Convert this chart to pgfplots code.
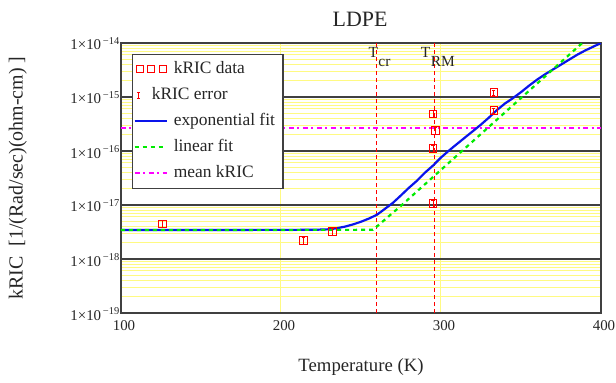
\documentclass[border=0pt]{standalone}
\usepackage{fontspec}
\setmainfont{Liberation Serif}
\usepackage{pgfplots}
\usepackage{pgfplotstable}
\pgfplotsset{compat=1.18}

\definecolor{gridyellow}{RGB}{255,250,130}
\definecolor{framegray}{RGB}{64,64,64}
\definecolor{fitblue}{RGB}{10,20,235}
\definecolor{fitgreen}{RGB}{0,235,0}
\definecolor{meanmag}{RGB}{255,0,255}

% measured resistivity-induced conductivity coefficient
\pgfplotstableread{
T      k         err
126    4.45e-18  0.15
214    2.22e-18  0.15
232    3.21e-18  0.15
295    1.07e-17  0.15
295    4.84e-16  0.15
296.5  2.38e-16  0.15
295    1.12e-16  0.15
333    1.20e-15  0.10
333    5.58e-16  0.10
}\kricdata

% exponential fit
\pgfplotstableread{
T    k
100  3.44e-18
220  3.47e-18
230  3.55e-18
235  3.72e-18
240  3.98e-18
245  4.37e-18
250  4.90e-18
255  5.62e-18
260  6.61e-18
265  8.51e-18
270  1.10e-17
275  1.51e-17
280  2.09e-17
285  2.82e-17
290  3.98e-17
295  5.37e-17
300  7.59e-17
305  1.02e-16
310  1.35e-16
315  1.78e-16
320  2.34e-16
325  3.09e-16
330  4.17e-16
335  5.75e-16
340  7.59e-16
345  9.55e-16
350  1.23e-15
355  1.62e-15
360  2.09e-15
365  2.63e-15
370  3.24e-15
375  3.98e-15
380  4.90e-15
385  6.03e-15
390  7.24e-15
395  8.51e-15
400  1.00e-14
}\expfit

% linear fit
\pgfplotstableread{
T      k
100    3.44e-18
257.5  3.47e-18
275    9.68e-18
300    4.48e-17
325    2.07e-16
350    9.57e-16
375    4.43e-15
390    1.11e-14
}\linfit

\pgfplotsset{
  leg data/.style={legend image code/.code={
    \draw[red,line width=1pt] (1.5bp,-3.5bp) rectangle (8.5bp,3.5bp);
    \draw[red,line width=1pt] (13bp,-3.5bp) rectangle (20bp,3.5bp);
    \draw[red,line width=1pt] (24.5bp,-3.5bp) rectangle (31.5bp,3.5bp);}},
  leg err/.style={legend image code/.code={
    \draw[red,line width=1pt] (4bp,-3bp)--(4bp,3bp) (2.5bp,-3bp)--(5.5bp,-3bp) (2.5bp,3bp)--(5.5bp,3bp);}},
  leg line/.style={legend image code/.code={\draw[##1] (0bp,0bp)--(32bp,0bp);}},
}

\begin{document}
\begin{tikzpicture}
\begin{axis}[
  name=ax,
  scale only axis,
  width=480bp, height=270bp,
  xmin=100, xmax=400,
  ymode=log, ymin=1e-19, ymax=1e-14,
  xtick={100,200,300,400},
  xticklabels={100,200,300,400},
  ytick={1e-19,1e-18,1e-17,1e-16,1e-15,1e-14},
  yticklabels={1×10\textsuperscript{\,−19},1×10\textsuperscript{\,−18},1×10\textsuperscript{\,−17},
               1×10\textsuperscript{\,−16},1×10\textsuperscript{\,−15},1×10\textsuperscript{\,−14}},
  major tick length=0pt, minor tick length=0pt,
  xmajorgrids, ymajorgrids, yminorgrids,
  major x grid style={gridyellow, line width=1bp},
  major y grid style={framegray, line width=1.1pt},
  minor y grid style={gridyellow, line width=1bp},
  axis line style={framegray, line width=1.3pt},
  ticklabel style={font=\fontsize{15}{15}\selectfont, text=black!85},
  yticklabel style={inner sep=0pt, xshift=-1bp, yshift=-1bp},
  xticklabel style={inner sep=0pt, xshift=3bp, yshift=-7bp},
  title={LDPE},
  title style={at={(axis description cs:0.498,1.066)}, anchor=center,
               font=\fontsize{22}{22}\selectfont, text=black!85},
  xlabel={Temperature (K)},
  xlabel style={at={(axis description cs:0.5,-0.2)}, anchor=center,
                font=\fontsize{18.8}{18.8}\selectfont, text=black!85},
  ylabel={kRIC\ \ [1/(Rad/sec)(ohm-cm) ]},
  ylabel style={at={(axis description cs:-0.215,0.5)}, anchor=center,
                font=\fontsize{20}{20}\selectfont, text=black!85},
  legend style={at={(axis description cs:0.023,0.959)}, anchor=north west,
                draw=framegray, line width=1.1pt, fill=white,
                font=\fontsize{17.5}{17.5}\selectfont, text=black!85,
                inner xsep=1bp, inner ysep=6bp, column sep=6bp,
                nodes={inner sep=0pt, text height=13bp, text depth=4.5bp},
                row sep=8.5bp},
  legend cell align=left,
  clip=true,
]
% legend entries
\addlegendimage{leg data}
\addlegendentry{kRIC data}
\addlegendimage{leg err}
\addlegendentry{\hspace*{-22bp}kRIC error}
\addlegendimage{leg line, fitblue, line width=2.2bp}
\addlegendentry{exponential fit\hspace*{7bp}}
\addlegendimage{leg line, fitgreen, line width=2.2bp, dash pattern=on 4bp off 4bp}
\addlegendentry{linear fit}
\addlegendimage{leg line, meanmag, line width=2bp, dash pattern=on 5bp off 3.5bp on 2bp off 3.5bp}
\addlegendentry{mean kRIC}

% critical and room temperatures
\addplot[forget plot, red, line width=1bp, dash pattern=on 4bp off 3bp]
  coordinates {(260,1e-19) (260,1e-14)};
\addplot[forget plot, red, line width=1bp, dash pattern=on 4bp off 3bp]
  coordinates {(296,1e-19) (296,1e-14)};

% mean value
\addplot[forget plot, meanmag, line width=2bp, dash pattern=on 5bp off 3.5bp on 2bp off 3.5bp]
  coordinates {(100,2.7e-16) (400,2.7e-16)};

% fits
\addplot[forget plot, fitblue, line width=2.2bp] table[x=T,y=k] {\expfit};
\addplot[forget plot, fitgreen, line width=2.2bp, dash pattern=on 4bp off 4bp] table[x=T,y=k] {\linfit};

% data with error bars
\addplot[forget plot, only marks, mark=square, mark size=3.8bp, red,
  mark options={line width=1pt},
  error bars/.cd, y dir=both, y explicit relative,
  error bar style={red, line width=1pt},
  error mark=-, error mark options={red, line width=1pt, mark size=1.6bp, rotate=90}]
  table[x=T, y=k, y error=err] {\kricdata};

\node[anchor=base east, inner sep=0pt, font=\fontsize{15.5}{15.5}\selectfont, text=black!85]
  at (axis cs:260.8,5.3e-15) {T};
\node[anchor=base west, inner sep=0pt, font=\fontsize{15.5}{15.5}\selectfont, text=black!85]
  at (axis cs:260.8,3.6e-15) {cr};
\node[anchor=base east, inner sep=0pt, font=\fontsize{15.5}{15.5}\selectfont, text=black!85]
  at (axis cs:293.5,5.3e-15) {T};
\node[anchor=base west, inner sep=0pt, font=\fontsize{15.5}{15.5}\selectfont, text=black!85]
  at (axis cs:293.5,3.6e-15) {RM};
\end{axis}
\pgfresetboundingbox
\path ([xshift=-121bp,yshift=-70bp]ax.south west) rectangle ([xshift=15bp,yshift=43bp]ax.north east);
\end{tikzpicture}
\end{document}
